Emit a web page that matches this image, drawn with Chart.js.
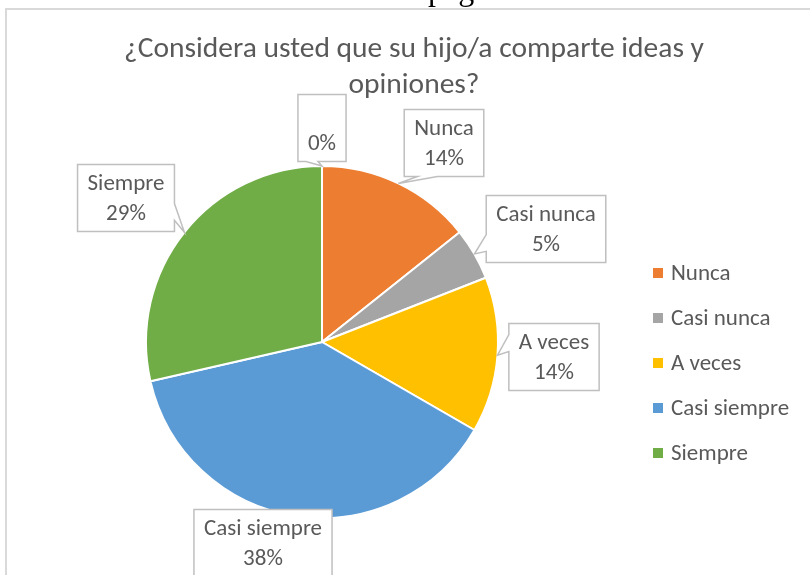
<!DOCTYPE html>
<html><head><meta charset="utf-8">
<script src="https://cdn.jsdelivr.net/npm/chart.js"></script>
<style>html,body{margin:0;padding:0;background:#fff}#wrap{position:relative;width:810px;height:575px;overflow:hidden}</style>
</head><body><div id="wrap"><canvas id="c" width="810" height="575"></canvas></div>
<script>
// ---- data ----
const categories = ['', 'Nunca', 'Casi nunca', 'A veces', 'Casi siempre', 'Siempre'];
const counts = [0, 3, 1, 3, 8, 6];
const colors = ['#7F7F7F', '#ED7D31', '#A5A5A5', '#FFC000', '#5B9BD5', '#70AD47'];
const legendLabels = ['Nunca', 'Casi nunca', 'A veces', 'Casi siempre', 'Siempre'];
const titleLines = ['¿Considera usted que su hijo/a comparte ideas y', 'opiniones?'];
const pageText = 'página';

// ---- styles / layout (not data) ----
const FONT = 'Carlito, Lato, "Open Sans", sans-serif';
const TEXT = '#595959';
// callout box centre offsets relative to pie centre
const calloutOffsets = [[0, -214], [122, -199], [224, -113], [232, 15], [-59, 201], [-196, -144]];

const total = counts.reduce((a, b) => a + b, 0);

function calloutPath(ctx, cx, cy, w, h, tx, ty) {
  const l = cx - w / 2, r = cx + w / 2, t = cy - h / 2, b = cy + h / 2;
  const inside = tx >= l && tx <= r && ty >= t && ty <= b;
  const dx = tx - cx, dy = ty - cy;
  const dq = dx * h / w;
  const vertical = Math.abs(dy) - Math.abs(dq) > 0;
  const side = inside ? 'none' : vertical ? (dy > 0 ? 'bottom' : 'top') : (dx > 0 ? 'right' : 'left');
  const xg1 = dx > 0 ? 7 : 2, xg2 = dx > 0 ? 10 : 5;
  const yg1 = dy > 0 ? 7 : 2, yg2 = dy > 0 ? 10 : 5;
  const x1 = l + w * xg1 / 12, x2 = l + w * xg2 / 12;
  const y1 = t + h * yg1 / 12, y2 = t + h * yg2 / 12;
  ctx.beginPath();
  ctx.moveTo(l, t);
  if (side === 'top') { ctx.lineTo(x1, t); ctx.lineTo(tx, ty); ctx.lineTo(x2, t); }
  ctx.lineTo(r, t);
  if (side === 'right') { ctx.lineTo(r, y1); ctx.lineTo(tx, ty); ctx.lineTo(r, y2); }
  ctx.lineTo(r, b);
  if (side === 'bottom') { ctx.lineTo(x2, b); ctx.lineTo(tx, ty); ctx.lineTo(x1, b); }
  ctx.lineTo(l, b);
  if (side === 'left') { ctx.lineTo(l, y2); ctx.lineTo(tx, ty); ctx.lineTo(l, y1); }
  ctx.closePath();
}

const decor = {
  id: 'decor',
  beforeDraw(chart) {
    const ctx = chart.ctx;
    ctx.save();
    ctx.fillStyle = '#fff';
    ctx.fillRect(0, 0, chart.width, chart.height);
    // cut-off text of the page above
    ctx.fillStyle = '#000';
    ctx.font = '32px "Liberation Serif", "DejaVu Serif", serif';
    ctx.textAlign = 'left';
    ctx.textBaseline = 'alphabetic';
    ctx.fillText(pageText, 428, 0);
    // frame
    ctx.fillStyle = '#D9D9D9';
    ctx.fillRect(5, 8, chart.width - 5, 2);
    ctx.fillRect(5, 8, 2, chart.height - 8);
    // title
    ctx.fillStyle = TEXT;
    ctx.textAlign = 'center';
    ctx.font = '29.5px ' + FONT;
    titleLines.forEach((ln, i) => ctx.fillText(ln, 414, 57 + i * 36));
    ctx.restore();
  },
  afterDraw(chart) {
    const ctx = chart.ctx;
    const meta = chart.getDatasetMeta(0);
    ctx.save();
    ctx.font = '23px ' + FONT;
    ctx.textAlign = 'center';
    ctx.textBaseline = 'middle';
    meta.data.forEach((arc, i) => {
      const mid = (arc.startAngle + arc.endAngle) / 2;
      const tx = arc.x + Math.cos(mid) * arc.outerRadius;
      const ty = arc.y + Math.sin(mid) * arc.outerRadius;
      const pct = Math.round(counts[i] / total * 100) + '%';
      const lines = [categories[i], pct];
      const tw = Math.max(...lines.map(s => ctx.measureText(s).width));
      const w = Math.max(tw + 20, 46), h = 67;
      const cx = arc.x + calloutOffsets[i][0], cy = arc.y + calloutOffsets[i][1];
      calloutPath(ctx, cx, cy, w, h, tx, ty);
      ctx.fillStyle = '#fff';
      ctx.fill();
      ctx.strokeStyle = '#BFBFBF';
      ctx.lineWidth = 1.5;
      ctx.stroke();
      ctx.fillStyle = TEXT;
      ctx.fillText(lines[0], cx, cy - 14);
      ctx.fillText(lines[1], cx, cy + 16);
    });
    // legend
    ctx.textAlign = 'left';
    legendLabels.forEach((lab, j) => {
      const idx = categories.indexOf(lab);
      const y = 273 + j * 45;
      ctx.fillStyle = colors[idx];
      ctx.fillRect(653, y - 5, 10, 10);
      ctx.fillStyle = TEXT;
      ctx.fillText(lab, 671, y + 1);
    });
    ctx.restore();
  }
};

new Chart(document.getElementById('c'), {
  type: 'pie',
  data: {
    labels: categories,
    datasets: [{
      data: counts,
      backgroundColor: colors,
      borderColor: '#fff',
      borderWidth: 2,
      hoverOffset: 0
    }]
  },
  options: {
    responsive: false,
    animation: false,
    events: [],
    layout: { padding: { left: 145, right: 311, top: 165, bottom: 56 } },
    plugins: { legend: { display: false }, tooltip: { enabled: false }, title: { display: false } }
  },
  plugins: [decor]
});
</script></body></html>
